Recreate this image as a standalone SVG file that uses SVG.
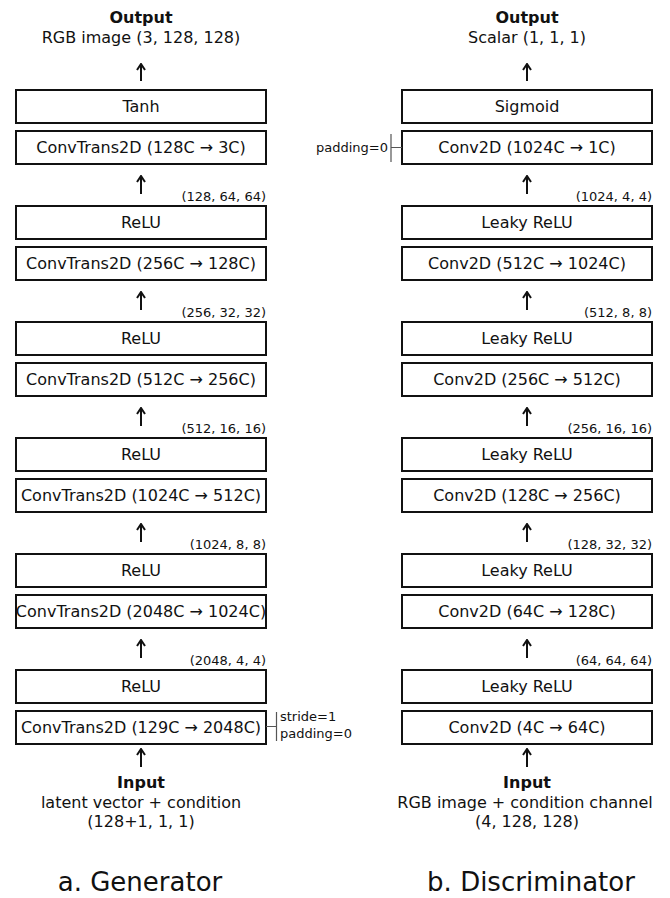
<svg xmlns="http://www.w3.org/2000/svg" width="670" height="898" viewBox="0 0 670 898">
<style>
text{font-family:"DejaVu Sans",sans-serif;fill:#111}
.b{font-size:16px;text-anchor:middle}
.t{font-size:16px;text-anchor:middle}
.tb{font-size:16px;font-weight:bold;text-anchor:middle}
.s{font-size:13px;text-anchor:end}
.p{font-size:13px}
.cap{font-size:26px;text-anchor:middle}
rect{fill:#fff;stroke:#111;stroke-width:2}
.ar{stroke:#111;stroke-width:2;fill:none}
.br{stroke:#555;stroke-width:1.2;fill:none}
</style>
<defs>
<marker id="ah" viewBox="0 0 10 10" refX="8.5" refY="5" markerWidth="10" markerHeight="10" markerUnits="userSpaceOnUse" orient="auto">
<path d="M2.5,1 L8.5,5 L2.5,9" fill="none" stroke="#111" stroke-width="2" stroke-linejoin="miter"/>
</marker>
</defs>
<g id="generator">
<g id="g-output"><text class="tb" x="141" y="23">Output</text><text class="t" x="141" y="43">RGB image (3, 128, 128)</text></g>
<g id="g-tanh"><rect x="16" y="90" width="250" height="33"/><text class="b" x="141" y="112">Tanh</text></g>
<g id="g-ct6"><rect x="16" y="131" width="250" height="33"/><text class="b" x="141" y="153">ConvTrans2D (128C → 3C)</text></g>
<g id="g-relu5"><rect x="16" y="206" width="250" height="33"/><text class="b" x="141" y="228">ReLU</text></g>
<g id="g-ct5"><rect x="16" y="247" width="250" height="33"/><text class="b" x="141" y="269">ConvTrans2D (256C → 128C)</text></g>
<g id="g-relu4"><rect x="16" y="322" width="250" height="33"/><text class="b" x="141" y="344">ReLU</text></g>
<g id="g-ct4"><rect x="16" y="363" width="250" height="33"/><text class="b" x="141" y="385">ConvTrans2D (512C → 256C)</text></g>
<g id="g-relu3"><rect x="16" y="438" width="250" height="33"/><text class="b" x="141" y="460">ReLU</text></g>
<g id="g-ct3"><rect x="16" y="479" width="250" height="33"/><text class="b" x="141" y="501">ConvTrans2D (1024C → 512C)</text></g>
<g id="g-relu2"><rect x="16" y="554" width="250" height="33"/><text class="b" x="141" y="576">ReLU</text></g>
<g id="g-ct2"><rect x="16" y="595" width="250" height="33"/><text class="b" x="141" y="617">ConvTrans2D (2048C → 1024C)</text></g>
<g id="g-relu1"><rect x="16" y="670" width="250" height="33"/><text class="b" x="141" y="692">ReLU</text></g>
<g id="g-ct1"><rect x="16" y="711" width="250" height="33"/><text class="b" x="141" y="733">ConvTrans2D (129C → 2048C)</text>
<path class="br" d="M266,726.5 H276.5 M276.5,712 V741"/>
<text class="p" x="280" y="721">stride=1</text><text class="p" x="280" y="738">padding=0</text></g>
<g id="g-input"><text class="tb" x="141" y="788">Input</text><text class="t" x="141" y="808">latent vector + condition</text><text class="t" x="141" y="827">(128+1, 1, 1)</text></g>
<g id="g-shapes">
<text class="s" x="266" y="201">(128, 64, 64)</text>
<text class="s" x="266" y="317">(256, 32, 32)</text>
<text class="s" x="266" y="433">(512, 16, 16)</text>
<text class="s" x="266" y="549">(1024, 8, 8)</text>
<text class="s" x="266" y="665">(2048, 4, 4)</text>
</g>
<text class="cap" x="140" y="891">a. Generator</text>
</g>
<g id="discriminator">
<g id="d-output"><text class="tb" x="527" y="23">Output</text><text class="t" x="527" y="43">Scalar (1, 1, 1)</text></g>
<g id="d-sig"><rect x="402" y="90" width="250" height="33"/><text class="b" x="527" y="112">Sigmoid</text></g>
<g id="d-c6"><rect x="402" y="131" width="250" height="33"/><text class="b" x="527" y="153">Conv2D (1024C → 1C)</text>
<path class="br" d="M402,147.5 H391 M391,134 V162"/>
<text class="p" x="388" y="152" text-anchor="end">padding=0</text></g>
<g id="d-lr5"><rect x="402" y="206" width="250" height="33"/><text class="b" x="527" y="228">Leaky ReLU</text></g>
<g id="d-c5"><rect x="402" y="247" width="250" height="33"/><text class="b" x="527" y="269">Conv2D (512C → 1024C)</text></g>
<g id="d-lr4"><rect x="402" y="322" width="250" height="33"/><text class="b" x="527" y="344">Leaky ReLU</text></g>
<g id="d-c4"><rect x="402" y="363" width="250" height="33"/><text class="b" x="527" y="385">Conv2D (256C → 512C)</text></g>
<g id="d-lr3"><rect x="402" y="438" width="250" height="33"/><text class="b" x="527" y="460">Leaky ReLU</text></g>
<g id="d-c3"><rect x="402" y="479" width="250" height="33"/><text class="b" x="527" y="501">Conv2D (128C → 256C)</text></g>
<g id="d-lr2"><rect x="402" y="554" width="250" height="33"/><text class="b" x="527" y="576">Leaky ReLU</text></g>
<g id="d-c2"><rect x="402" y="595" width="250" height="33"/><text class="b" x="527" y="617">Conv2D (64C → 128C)</text></g>
<g id="d-lr1"><rect x="402" y="670" width="250" height="33"/><text class="b" x="527" y="692">Leaky ReLU</text></g>
<g id="d-c1"><rect x="402" y="711" width="250" height="33"/><text class="b" x="527" y="733">Conv2D (4C → 64C)</text></g>
<g id="d-input"><text class="tb" x="527" y="788">Input</text><text class="t" x="525" y="808">RGB image + condition channel</text><text class="t" x="527" y="827">(4, 128, 128)</text></g>
<g id="d-shapes">
<text class="s" x="652" y="201">(1024, 4, 4)</text>
<text class="s" x="652" y="317">(512, 8, 8)</text>
<text class="s" x="652" y="433">(256, 16, 16)</text>
<text class="s" x="652" y="549">(128, 32, 32)</text>
<text class="s" x="652" y="665">(64, 64, 64)</text>
</g>
<text class="cap" x="531" y="891">b. Discriminator</text>
</g>
<g id="connectors">
<line class="ar" x1="141" y1="81" x2="141" y2="64" marker-end="url(#ah)"/>
<line class="ar" x1="141" y1="194" x2="141" y2="176" marker-end="url(#ah)"/>
<line class="ar" x1="141" y1="310" x2="141" y2="292" marker-end="url(#ah)"/>
<line class="ar" x1="141" y1="426" x2="141" y2="408" marker-end="url(#ah)"/>
<line class="ar" x1="141" y1="542" x2="141" y2="524" marker-end="url(#ah)"/>
<line class="ar" x1="141" y1="658" x2="141" y2="640" marker-end="url(#ah)"/>
<line class="ar" x1="141" y1="767" x2="141" y2="749" marker-end="url(#ah)"/>
<line class="ar" x1="527" y1="81" x2="527" y2="64" marker-end="url(#ah)"/>
<line class="ar" x1="527" y1="194" x2="527" y2="176" marker-end="url(#ah)"/>
<line class="ar" x1="527" y1="310" x2="527" y2="292" marker-end="url(#ah)"/>
<line class="ar" x1="527" y1="426" x2="527" y2="408" marker-end="url(#ah)"/>
<line class="ar" x1="527" y1="542" x2="527" y2="524" marker-end="url(#ah)"/>
<line class="ar" x1="527" y1="658" x2="527" y2="640" marker-end="url(#ah)"/>
<line class="ar" x1="527" y1="767" x2="527" y2="749" marker-end="url(#ah)"/>
</g>
</svg>
